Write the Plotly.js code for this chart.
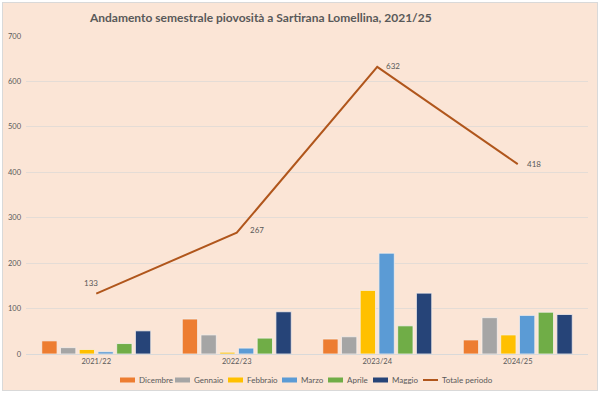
<!DOCTYPE html>
<html>
<head>
<meta charset="utf-8">
<script src="https://cdn.plot.ly/plotly-3.0.1.min.js"></script>
<style>
html,body{margin:0;padding:0;background:#ffffff;}
#wrap{position:absolute;left:2px;top:2px;width:594px;height:387px;border:1px solid #d9d9d9;}
#chart{width:594px;height:387px;}
</style>
</head>
<body>
<div id="wrap"><div id="chart"></div></div>
<script>
const periods = ['2021/22','2022/23','2023/24','2024/25'];
const dicembre = [29, 77, 33, 31];
const gennaio  = [14, 42, 38, 80];
const febbraio = [10, 4, 140, 42];
const marzo    = [5, 13, 222, 85];
const aprile   = [23, 35, 62, 92];
const maggio   = [51, 93, 134, 87];
const totale   = [133, 267, 632, 418];
const seriesNames = ['Dicembre','Gennaio','Febbraio','Marzo','Aprile','Maggio','Totale periodo'];

const colors = ['#ED7D31','#A5A5A5','#FFC000','#5B9BD5','#70AD47','#264478'];
const lineColor = '#B0561C';
const monthData = [dicembre, gennaio, febbraio, marzo, aprile, maggio];

const traces = monthData.map((d, i) => ({
  type: 'bar', name: seriesNames[i], x: periods, y: d,
  marker: {color: colors[i], line: {color: '#f6f0ec', width: 0.8}},
  showlegend: false, hoverinfo: 'none'
}));

traces.push({
  type: 'scatter', mode: 'lines', name: seriesNames[6],
  x: periods, y: totale,
  line: {color: lineColor, width: 2},
  showlegend: false, cliponaxis: false
});

// data labels for the total line
const lblXshift = [-5, 11, 7, 7];
const lblYshift = [11, 3, 1, 0];
const annotations = totale.map((v, i) => ({
  x: periods[i], y: v, xref: 'x', yref: 'y', text: String(v), showarrow: false,
  font: {size: 8, color: '#595959', family: 'Lato, sans-serif'},
  xanchor: i === 0 ? 'center' : 'left', yanchor: 'middle',
  xshift: lblXshift[i], yshift: lblYshift[i]
}));

// custom legend (Excel style: wide short swatches)
const M = {l: 23, r: 9, t: 33, b: 36};
const W = 594, H = 387;
const plotW = W - M.l - M.r, plotH = H - M.t - M.b;
const legendPx = [117, 172, 225, 279, 325, 370, 420]; // swatch left edges (px in div)
const legendYpx = 377; // centre line of legend (px in div)
const toPX = px => (px - M.l) / plotW;
const toPY = py => (H - M.b - py) / plotH;
const shapes = [];
seriesNames.forEach((name, i) => {
  const x0 = toPX(legendPx[i]), x1 = toPX(legendPx[i] + 15);
  if (i < 6) {
    shapes.push({type: 'rect', xref: 'paper', yref: 'paper', x0: x0, x1: x1,
      y0: toPY(legendYpx + 2.5), y1: toPY(legendYpx - 2.5),
      fillcolor: colors[i], line: {width: 0}});
  } else {
    shapes.push({type: 'line', xref: 'paper', yref: 'paper', x0: x0, x1: x1,
      y0: toPY(legendYpx), y1: toPY(legendYpx), line: {color: lineColor, width: 2}});
  }
  annotations.push({xref: 'paper', yref: 'paper', x: toPX(legendPx[i] + 16.5), y: toPY(legendYpx),
    xanchor: 'left', yanchor: 'middle', showarrow: false, text: name,
    font: {size: 8, color: '#595959', family: 'Lato, sans-serif'}});
});

const layout = {
  width: W, height: H,
  paper_bgcolor: '#FBE5D6', plot_bgcolor: '#FBE5D6',
  margin: {l: M.l, r: M.r, t: M.t, b: M.b, autoexpand: false},
  font: {family: 'Lato, sans-serif', color: '#595959'},
  title: {text: '<b>Andamento semestrale piovosità a Sartirana Lomellina, 2021/25</b>',
          font: {size: 12, color: '#595959', family: 'Lato, sans-serif'},
          x: 0.434, xanchor: 'center', y: 0.961, yanchor: 'middle'},
  barmode: 'group', bargap: 0.2, bargroupgap: 0.18,
  xaxis: {type: 'category', tickfont: {size: 7.5, color: '#595959'}, showline: true,
          linecolor: '#d9d9d9', linewidth: 1, ticks: '', showgrid: false},
  yaxis: {range: [0, 700], dtick: 100, tickfont: {size: 7.5, color: '#595959'},
          gridcolor: '#e4dcd6', gridwidth: 1, zeroline: false, ticks: '', ticklabelstandoff: 4},
  shapes: shapes,
  annotations: annotations,
  showlegend: false
};

Plotly.newPlot('chart', traces, layout, {displayModeBar: false, staticPlot: true});
</script>
</body>
</html>
